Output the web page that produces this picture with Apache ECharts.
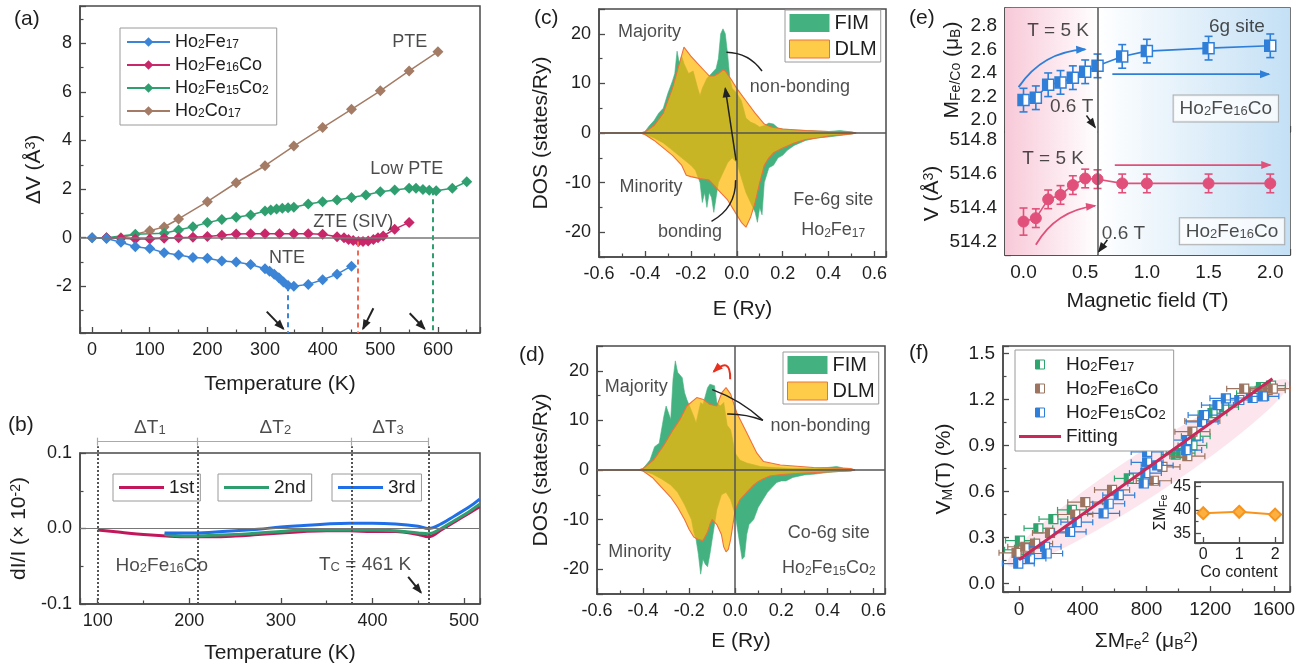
<!DOCTYPE html>
<html>
<head>
<meta charset="utf-8">
<script src="https://cdn.jsdelivr.net/npm/echarts@6/dist/echarts.min.js"></script>
<style>
  html, body { margin: 0; padding: 0; background: #fff; }
  #chart { width: 1303px; height: 667px; }
</style>
</head>
<body>
<div id="chart"></div>
<script>
// ---------- (a) volume change vs temperature ----------
const tFe17 = [0, 25, 50, 75, 100, 125, 150, 175, 200, 225, 250, 275, 300, 308, 316, 324, 332, 340, 350, 375, 400, 425, 450]
const dvFe17 = [0, -0.03, -0.19, -0.37, -0.44, -0.62, -0.71, -0.81, -0.85, -0.96, -1.0, -1.1, -1.28, -1.38, -1.5, -1.65, -1.82, -1.97, -2.0, -1.92, -1.73, -1.5, -1.17]
const tFe16Co = [25, 50, 75, 100, 125, 150, 175, 200, 225, 250, 275, 300, 325, 350, 375, 400, 425, 437, 445, 453, 462, 470, 479, 488, 496, 505, 525, 550]
const dvFe16Co = [0, -0.02, -0.05, -0.05, -0.02, 0, 0.02, 0.05, 0.1, 0.15, 0.16, 0.16, 0.16, 0.16, 0.16, 0.14, 0.04, 0, -0.07, -0.12, -0.16, -0.16, -0.14, -0.07, 0, 0.07, 0.35, 0.63]
const tFe15Co2 = [25, 75, 125, 150, 175, 200, 225, 250, 275, 300, 310, 320, 330, 340, 350, 375, 400, 425, 450, 475, 500, 525, 550, 562, 574, 585, 597, 625, 650]
const dvFe15Co2 = [0, 0.14, 0.18, 0.32, 0.45, 0.62, 0.75, 0.84, 0.93, 1.1, 1.14, 1.18, 1.21, 1.23, 1.25, 1.39, 1.48, 1.55, 1.65, 1.76, 1.89, 1.96, 2.03, 2.03, 1.98, 1.95, 1.93, 2.03, 2.3]
const tCo17 = [0, 50, 100, 125, 150, 200, 250, 300, 350, 400, 450, 500, 550, 600]
const dvCo17 = [0, 0, 0.29, 0.44, 0.77, 1.48, 2.26, 2.96, 3.77, 4.53, 5.28, 6.04, 6.86, 7.65]
const transT = [340, 460.7, 590.8]          // dashed markers of NTE / ZTE / PTE limits
const transV = [-2.0, -0.16, 1.95]

// ---------- (b) dI/I of three runs ----------
const tRun1 = [100, 125, 150, 175, 200, 225, 250, 275, 300, 325, 350, 375, 400, 425, 450, 461, 475, 490, 505, 517]
const run1 = [-0.002, -0.005, -0.008, -0.010, -0.011, -0.011, -0.010, -0.008, -0.006, -0.004, -0.003, -0.003, -0.004, -0.004, -0.008, -0.011, -0.002, 0.009, 0.020, 0.029]
const tRun2 = [173, 200, 225, 250, 275, 300, 325, 350, 375, 400, 425, 450, 461, 475, 490, 505, 517]
const run2 = [-0.008, -0.010, -0.009, -0.008, -0.006, -0.004, -0.002, -0.002, -0.002, -0.002, -0.003, -0.006, -0.007, 0.0, 0.011, 0.022, 0.032]
const tRun3 = [173, 200, 225, 250, 275, 300, 325, 350, 375, 400, 425, 450, 461, 475, 490, 505, 517]
const run3 = [-0.006, -0.006, -0.005, -0.003, -0.001, 0.002, 0.004, 0.006, 0.007, 0.007, 0.006, 0.003, 0.0, 0.006, 0.017, 0.028, 0.039]
const rangeBounds = [100, 209, 377, 461]

// ---------- (c) DOS Fe-6g, Ho2Fe17 ----------
const eFimUpC = [-0.6, -0.42, -0.40, -0.38, -0.36, -0.34, -0.32, -0.30, -0.28, -0.27, -0.26, -0.25, -0.24, -0.23, -0.21, -0.19, -0.17, -0.16, -0.15, -0.13, -0.11, -0.09, -0.08, -0.07, -0.06, -0.05, -0.04, -0.03, -0.02, 0.0, 0.02, 0.04, 0.06, 0.08, 0.10, 0.12, 0.14, 0.16, 0.18, 0.20, 0.25, 0.30, 0.35, 0.40, 0.45, 0.50, 0.52]
const fimUpC = [0, 0, 0.3, 1.5, 2.5, 4, 5, 8, 10.5, 12, 16.5, 14, 15.5, 14, 12, 12.5, 9, 7.5, 9, 11, 12, 13, 15, 20, 21, 20, 16, 11, 9, 8, 6.5, 3, 2.2, 1.8, 1.2, 1.5, 2, 1.8, 1.0, 0.8, 0.6, 0.5, 0.4, 0.3, 0.5, 0.2, 0]
const eDlmUpC = [-0.6, -0.42, -0.40, -0.36, -0.32, -0.28, -0.25, -0.23, -0.20, -0.17, -0.14, -0.12, -0.10, -0.08, -0.06, -0.05, -0.02, 0.0, 0.04, 0.08, 0.12, 0.15, 0.20, 0.30, 0.40, 0.50, 0.52]
const dlmUpC = [0, 0, 0.2, 1.5, 4, 9, 14, 17.3, 15.5, 14, 12.5, 11.5, 11.5, 12, 12.7, 12.5, 10.5, 9, 6.5, 4, 1.8, 1.2, 0.8, 0.5, 0.3, 0.2, 0]
const eFimDnC = [-0.6, -0.42, -0.40, -0.36, -0.32, -0.28, -0.24, -0.20, -0.18, -0.16, -0.15, -0.14, -0.13, -0.12, -0.11, -0.10, -0.09, -0.08, -0.06, -0.04, -0.02, 0.0, 0.02, 0.04, 0.06, 0.08, 0.09, 0.10, 0.11, 0.12, 0.14, 0.16, 0.18, 0.20, 0.22, 0.25, 0.30, 0.35, 0.40, 0.45, 0.50, 0.52]
const fimDnC = [0, 0, -0.3, -1, -2, -3.5, -5, -6.5, -7.5, -10, -14, -12, -15, -12, -13, -16, -13, -10, -8, -6, -5, -6, -9, -12, -14, -16, -18, -15, -16.5, -10, -7, -6.5, -5, -4.5, -3.5, -2.5, -1.5, -1, -0.8, -0.5, -0.2, 0]
const eDlmDnC = [-0.6, -0.42, -0.40, -0.36, -0.32, -0.28, -0.24, -0.22, -0.20, -0.16, -0.12, -0.10, -0.07, -0.04, -0.02, 0.0, 0.02, 0.04, 0.06, 0.08, 0.10, 0.12, 0.14, 0.16, 0.20, 0.25, 0.30, 0.35, 0.40, 0.45, 0.50, 0.52]
const dlmDnC = [0, 0, -0.3, -1.5, -3, -4.5, -6.5, -8.5, -8.8, -9.2, -9.5, -10.5, -12, -13.5, -15, -16.5, -18, -19, -17, -14, -10, -6.5, -5, -4, -3, -2, -1.3, -1, -0.6, -0.4, -0.2, 0]

// ---------- (d) DOS Co-6g, Ho2Fe15Co2 ----------
const eFimUpD = [-0.6, -0.42, -0.40, -0.37, -0.35, -0.33, -0.31, -0.30, -0.28, -0.27, -0.26, -0.25, -0.23, -0.22, -0.21, -0.18, -0.17, -0.15, -0.14, -0.12, -0.11, -0.09, -0.08, -0.065, -0.05, -0.035, -0.02, 0.0, 0.02, 0.05, 0.11, 0.17, 0.25, 0.34, 0.40, 0.44, 0.47, 0.50, 0.52]
const fimUpD = [0, 0, 0.3, 2, 4.7, 5.4, 10.8, 12.9, 10.2, 18.3, 22, 19.7, 18.6, 15.6, 14.2, 10.8, 9.5, 13.6, 13.2, 16.6, 17.3, 17, 13.6, 12.9, 13.6, 9, 8.1, 3.4, 2, 1.4, 0.7, 0.5, 0.3, 0.3, 0.5, 0.7, 0.4, 0.3, 0]
const eDlmUpD = [-0.6, -0.42, -0.40, -0.355, -0.31, -0.27, -0.24, -0.21, -0.167, -0.138, -0.109, -0.08, -0.058, -0.04, -0.02, 0.007, 0.05, 0.094, 0.123, 0.196, 0.34, 0.50, 0.52]
const dlmUpD = [0, 0, 0.3, 2, 5, 8.1, 10.2, 12.9, 14.6, 14.2, 13.2, 12.9, 15.6, 16.6, 15.3, 11.5, 7.5, 3.4, 1.7, 1.0, 0.5, 0.3, 0]
const eFimDnD = [-0.6, -0.42, -0.40, -0.36, -0.32, -0.28, -0.25, -0.22, -0.20, -0.19, -0.18, -0.17, -0.16, -0.15, -0.14, -0.13, -0.12, -0.11, -0.10, -0.09, -0.08, -0.06, -0.04, -0.02, 0.0, 0.01, 0.02, 0.03, 0.04, 0.05, 0.06, 0.08, 0.10, 0.12, 0.14, 0.16, 0.18, 0.20, 0.22, 0.25, 0.30, 0.35, 0.40, 0.45, 0.50, 0.52]
const fimDnD = [0, 0, -0.2, -0.8, -1.8, -3, -4.5, -7, -9, -10, -12.5, -14, -17, -21, -18, -19, -19.5, -17, -14, -11, -8, -5, -4.5, -6, -9, -12, -15, -18, -17.5, -13, -11, -10, -7.5, -6, -4.5, -3.5, -2.5, -2.2, -2.2, -1.5, -1, -0.8, -0.5, -0.3, -0.2, 0]
const eDlmDnD = [-0.6, -0.42, -0.40, -0.36, -0.32, -0.28, -0.25, -0.22, -0.20, -0.18, -0.16, -0.14, -0.12, -0.11, -0.10, -0.08, -0.06, -0.05, -0.04, -0.03, -0.02, -0.01, 0.0, 0.02, 0.04, 0.06, 0.08, 0.10, 0.12, 0.15, 0.20, 0.30, 0.40, 0.50, 0.52]
const dlmDnD = [0, 0, -0.2, -1.5, -3.5, -5.5, -7.5, -10, -12, -13.5, -14, -14.2, -12.5, -11, -10, -11, -13, -15.5, -16.5, -16, -14, -11, -8, -6, -5, -4, -3, -2.3, -1.8, -1.2, -0.9, -0.6, -0.4, -0.2, 0]

// ---------- (e) moment and volume vs field ----------
const field = [0, 0.1, 0.2, 0.3, 0.4, 0.5, 0.6, 0.8, 1.0, 1.5, 2.0]
const moment = [2.17, 2.19, 2.30, 2.32, 2.36, 2.41, 2.46, 2.54, 2.585, 2.61, 2.63]
const momentErr = [0.1, 0.1, 0.1, 0.1, 0.1, 0.1, 0.1, 0.1, 0.1, 0.1, 0.1]
const volume = [514.317, 514.337, 514.448, 514.474, 514.532, 514.571, 514.567, 514.542, 514.542, 514.542, 514.542]
const volumeErr = [0.08, 0.055, 0.055, 0.055, 0.055, 0.055, 0.055, 0.055, 0.055, 0.055, 0.055]

// ---------- (f) magnetovolume vs sum M^2 ----------
const mFe17 = [0, 6, 122, 216, 332, 689, 983, 1014, 1088, 1109, 1214, 1287, 1455, 1518, 1581]
const vFe17 = [0.22, 0.28, 0.36, 0.42, 0.48, 0.685, 0.84, 0.85, 0.9, 0.96, 1.11, 1.15, 1.24, 1.28, 1.29]
const mFe16Co = [-15, 40, 101, 195, 353, 416, 584, 846, 900, 1056, 1088, 1150, 1413, 1560, 1592]
const vFe16Co = [0.2, 0.24, 0.26, 0.33, 0.45, 0.53, 0.61, 0.67, 0.76, 0.83, 0.99, 1.06, 1.27, 1.26, 1.27]
const mFe15Co2 = [-4, 69, 164, 174, 321, 363, 531, 563, 626, 783, 793, 804, 804, 867, 1046, 1054, 1149, 1161, 1245, 1298, 1382, 1466, 1530]
const vFe15Co2 = [0.13, 0.163, 0.24, 0.196, 0.337, 0.40, 0.457, 0.52, 0.576, 0.652, 0.72, 0.79, 0.858, 0.77, 0.87, 0.935, 1.054, 1.098, 1.163, 1.207, 1.196, 1.209, 1.22]
const errFe17 = 90, errFe16Co = 110, errFe15Co2 = 100
const fitM = [0, 1590]
const fitV = [0.155, 1.335]
const coContent = [0, 1, 2]
const sumM = [39.3, 39.6, 39.0]

// ---------- styling ----------
const FONT = '"Liberation Sans", Arial, Helvetica, sans-serif'
const INK = '#1e1e1e'
const AX = '#4a4a4a'
const C = {
  fe17: '#3b84d6', fe16co: '#c8286a', fe15co2: '#2f9f70', co17: '#a47c66',
  r1: '#c2185b', r2: '#2e9e6e', r3: '#1f6fe8',
  fim: '#44b280', dlm: '#ffb700', dlmLegend: '#ffcc4a', dlmLine: '#f0703a',
  eBlue: '#2f7fd8', eRed: '#e0507a',
  fGreen: '#2ea46e', fBrown: '#9c7460', fBlue: '#2f7fd8', fit: '#c8285a', inset: '#f7941d'
}

const zip = (xs, ys) => xs.map((x, i) => [x, ys[i]])
const chem = s => s.replace(/(\d+)/g, '{s|$1}')
const RICH = fs => ({
  s: { fontSize: fs, fontFamily: FONT, verticalAlign: 'bottom', color: INK },
  p: { fontSize: fs, fontFamily: FONT, verticalAlign: 'top', color: INK }
})

function axis(gi, min, max, step, o = {}) {
  return Object.assign({
    type: 'value', gridIndex: gi, min, max, minInterval: step, maxInterval: step,
    axisLine: { show: true, onZero: false, lineStyle: { color: AX, width: 1.5 } },
    axisTick: { show: true, inside: true, length: 6, lineStyle: { color: AX, width: 1.3 } },
    minorTick: { show: true, splitNumber: 2, length: 3.5, lineStyle: { color: AX, width: 1.2 } },
    splitLine: { show: false },
    axisLabel: {
      show: o.labels !== false, color: INK, fontSize: o.fs || 18, fontFamily: FONT, margin: o.margin || 8,
      showMinLabel: !!o.minLabel, showMaxLabel: !!o.maxLabel,
      formatter: v => (o.dec != null ? v.toFixed(o.dec) : String(Math.round(v)))
    },
    name: o.name || '', nameLocation: 'middle', nameGap: o.gap || 30,
    nameTextStyle: { fontSize: o.nfs || 21, color: INK, fontFamily: FONT, rich: RICH(o.sfs || 14) }
  }, o.extra || {})
}
function hidden(gi, min, max) {
  return { type: 'value', gridIndex: gi, min, max, show: false, splitLine: { show: false } }
}
const box = (left, top, width, height) => ({ left, top, width, height, show: true, borderColor: AX, borderWidth: 1.5 })

// annotation texts [x, y, text, labelOverride]; rules are full-width/height markLines or vertical segments
function notes(gi, items, rules, fs) {
  return {
    type: 'scatter', xAxisIndex: gi, yAxisIndex: gi, symbolSize: 0, silent: true, z: 8,
    data: items.map(n => ({ value: [n[0], n[1]], text: n[2], label: n[3] || {} })),
    label: { show: true, position: 'inside', color: INK, fontSize: fs || 18, fontFamily: FONT, formatter: p => p.data.text, rich: RICH(Math.round((fs || 18) * 0.68)) },
    markLine: {
      silent: true, animation: false, symbol: 'none', label: { show: false },
      lineStyle: { color: '#222', width: 1.5, type: 'solid' },
      data: (rules || []).map(l => l.length === 1 ? l[0] : [{ coord: l[0], lineStyle: l[2] || {} }, { coord: l[1] }])
    }
  }
}

// leader lines and arrows [[x1,y1],[x2,y2],{color,width,curveness},hasHead]
function arrows(gi, list) {
  return {
    type: 'custom', xAxisIndex: gi, yAxisIndex: gi, silent: true, z: 9, clip: false,
    data: list.map(l => [l[0][0], l[0][1], l[1][0], l[1][1]]),
    encode: { x: [0, 2], y: [1, 3] },
    renderItem: (params, api) => {
      const l = list[params.dataIndex], st = l[2] || {}
      const a = api.coord([api.value(0), api.value(1)]), b = api.coord([api.value(2), api.value(3)])
      const c = st.curveness || 0
      const cp = [(a[0] + b[0]) / 2 - (a[1] - b[1]) * c, (a[1] + b[1]) / 2 - (b[0] - a[0]) * c]
      const color = st.color || '#222', w = st.width || 1.5
      const kids = [{ type: 'bezierCurve', shape: { x1: a[0], y1: a[1], x2: b[0], y2: b[1], cpx1: cp[0], cpy1: cp[1] }, style: { stroke: color, lineWidth: w, fill: null } }]
      if (l[3]) {
        const dx = b[0] - cp[0], dy = b[1] - cp[1], len = Math.hypot(dx, dy) || 1, ux = dx / len, uy = dy / len
        const L = 9, W = 4
        kids.push({ type: 'polygon', shape: { points: [[b[0] + ux * 1.5, b[1] + uy * 1.5], [b[0] - ux * L - uy * W, b[1] - uy * L + ux * W], [b[0] - ux * L + uy * W, b[1] - uy * L - ux * W]] }, style: { fill: color } })
      }
      return { type: 'group', children: kids }
    }
  }
}

function vErr(color, round) {
  return (params, api) => {
    const x = api.value(0), y = api.value(1), e = api.value(2)
    const p = api.coord([x, y]), lo = api.coord([x, y - e]), hi = api.coord([x, y + e])
    const st = { stroke: color, lineWidth: 1.6 }, cap = 4, h = 5.5
    const kids = [
      { type: 'line', shape: { x1: p[0], y1: lo[1], x2: p[0], y2: hi[1] }, style: st },
      { type: 'line', shape: { x1: p[0] - cap, y1: lo[1], x2: p[0] + cap, y2: lo[1] }, style: st },
      { type: 'line', shape: { x1: p[0] - cap, y1: hi[1], x2: p[0] + cap, y2: hi[1] }, style: st }
    ]
    if (round) {
      kids.push({ type: 'circle', shape: { cx: p[0], cy: p[1], r: h }, style: { fill: color, stroke: color } })
    } else {
      kids.push({ type: 'rect', shape: { x: p[0] - h, y: p[1] - h, width: 2 * h, height: 2 * h }, style: { fill: '#fff', stroke: color, lineWidth: 1.5 } })
      kids.push({ type: 'rect', shape: { x: p[0] - h, y: p[1] - h, width: h, height: 2 * h }, style: { fill: color } })
    }
    return { type: 'group', children: kids }
  }
}
function hErr(color) {
  return (params, api) => {
    const x = api.value(0), y = api.value(1), e = api.value(2)
    const p = api.coord([x, y]), l = api.coord([x - e, y]), r = api.coord([x + e, y])
    const st = { stroke: color, lineWidth: 1.2 }, cap = 3, h = 4.5
    return {
      type: 'group', children: [
        { type: 'line', shape: { x1: l[0], y1: p[1], x2: r[0], y2: p[1] }, style: st },
        { type: 'line', shape: { x1: l[0], y1: p[1] - cap, x2: l[0], y2: p[1] + cap }, style: st },
        { type: 'line', shape: { x1: r[0], y1: p[1] - cap, x2: r[0], y2: p[1] + cap }, style: st },
        { type: 'rect', shape: { x: p[0] - h, y: p[1] - h, width: 2 * h, height: 2 * h }, style: { fill: '#fff', stroke: color, lineWidth: 1.2 } },
        { type: 'rect', shape: { x: p[0] - h, y: p[1] - h, width: h, height: 2 * h }, style: { fill: color } }
      ]
    }
  }
}
const halfFill = c => ({ type: 'linear', x: 0, y: 0, x2: 1, y2: 0, colorStops: [{ offset: 0, color: c }, { offset: 0.5, color: c }, { offset: 0.5, color: '#fff' }, { offset: 1, color: '#fff' }] })
const grad = (a, b) => ({ type: 'linear', x: 0, y: 0, x2: 1, y2: 0, colorStops: [{ offset: 0, color: a }, { offset: 1, color: b }] })
const SQUARE = 'path://M0,0L10,0L10,10L0,10Z'
const BAR = w => `path://M0,0L${w},0L${w},3.2L0,3.2Z`

// axis ranges
const A = { x: [-21, 673], y: [-3.92, 9.53] }
const B = { x: [80.7, 517.4], y: [-0.1, 0.1] }
const DOSX = [-0.6, 0.65], DOSY = [-25, 25]
const E = { x: [-0.15, 2.16], top: [1.9, 2.95], bot: [514.12, 514.845] }
const F = { x: [-100, 1700], y: [-0.055, 1.548] }
const INS = { x: [-0.23, 2.22], y: [32.9, 46] }

const lineS = (name, gi, xs, ys, color, extra) => Object.assign({
  name, type: 'line', xAxisIndex: gi, yAxisIndex: gi, data: zip(xs, ys),
  symbol: 'diamond', symbolSize: 11, itemStyle: { color }, lineStyle: { color, width: 1.5 }, animation: false
}, extra || {})
const dosS = (name, gi, xs, ys, isDlm) => ({
  name, type: 'line', xAxisIndex: gi, yAxisIndex: gi, data: zip(xs, ys), symbol: 'none', animation: false,
  z: isDlm ? 4 : 3, itemStyle: { color: isDlm ? C.dlmLegend : C.fim },
  lineStyle: isDlm ? { color: C.dlmLine, width: 1.1 } : { color: C.fim, width: 0.6 },
  areaStyle: isDlm ? { color: C.dlm, opacity: 0.7 } : { color: C.fim, opacity: 1 }
})
const runS = (name, xs, ys, color) => ({
  name, type: 'line', xAxisIndex: 1, yAxisIndex: 1, data: zip(xs, ys), symbol: 'none', smooth: 0.4,
  lineStyle: { color, width: 3 }, itemStyle: { color }, animation: false
})
const rows = (xs, ys, es) => xs.map((x, i) => [x, ys[i], Array.isArray(es) ? es[i] : es])

const legendText = fs => ({ color: INK, fontSize: fs, fontFamily: FONT, rich: RICH(Math.round(fs * 0.68)) })
const legendBase = { orient: 'vertical', borderColor: '#9a9a9a', borderWidth: 1, backgroundColor: '#fff', selectedMode: false }

const chart = echarts.init(document.getElementById('chart'))
const dashV = (x, y, color) => [[x, y], [x, A.y[0]], { color, type: [5, 4], width: 2 }]
const eBg = [
  [{ xAxis: E.x[0], itemStyle: { color: grad('#f8c9d8', '#ffffff') } }, { xAxis: 0.6 }],
  [{ xAxis: 0.6, itemStyle: { color: grad('#ffffff', '#c4e0f5') } }, { xAxis: E.x[1] }]
]
const boxed = { borderColor: '#9a9a9a', borderWidth: 1, backgroundColor: '#fff', padding: [4, 6, 3, 6] }

chart.setOption({
  animation: false,
  title: [
    ['(a)', 14, 9], ['(b)', 8, 415], ['(c)', 534, 8], ['(d)', 519, 345], ['(e)', 909, 8], ['(f)', 909, 343]
  ].map(t => ({ text: t[0], left: t[1], top: t[2], padding: 0, textStyle: { fontSize: 21, fontWeight: 'normal', color: INK, fontFamily: FONT } })),
  grid: [
    box(80, 6, 400, 327),        // a
    box(80, 453, 400, 151),      // b
    { left: 80, top: 415, width: 400, height: 189, show: false }, // b overlay (range brackets)
    box(599, 9, 287, 248),       // c
    box(597, 346, 288, 248),     // d
    box(1005, 8, 285, 124),      // e top
    box(1005, 132, 285, 123),    // e bottom
    box(1003, 346, 287, 246),    // f
    box(1195, 482, 88, 61)       // f inset
  ],
  xAxis: [
    axis(0, A.x[0], A.x[1], 100, { name: 'Temperature (K)', gap: 41 }),
    axis(1, B.x[0], B.x[1], 100, { name: 'Temperature (K)', gap: 39 }),
    hidden(2, B.x[0], B.x[1]),
    axis(3, DOSX[0], DOSX[1], 0.2, { name: 'E (Ry)', gap: 42, dec: 1, minLabel: true }),
    axis(4, DOSX[0], DOSX[1], 0.2, { name: 'E (Ry)', gap: 37, dec: 1, minLabel: true }),
    axis(5, E.x[0], E.x[1], 0.5, { labels: false }),
    axis(6, E.x[0], E.x[1], 0.5, { name: 'Magnetic field (T)', gap: 36, dec: 1, fs: 19 }),
    axis(7, F.x[0], F.x[1], 400, { name: 'ΣM{s|Fe}{p|2} (μ{s|B}{p|2})', gap: 39, fs: 19 }),
    axis(8, INS.x[0], INS.x[1], 1, { name: 'Co content', gap: 22, fs: 16, nfs: 16, margin: 4, extra: { minorTick: { show: false } } })
  ],
  yAxis: [
    axis(0, A.y[0], A.y[1], 2, { name: 'ΔV (Å{p|3})', gap: 35 }),
    axis(1, B.y[0], B.y[1], 0.1, { name: 'dI/I (× 10{p|-2})', gap: 50, dec: 1, minLabel: true, maxLabel: true }),
    hidden(2, 0, 1),
    axis(3, DOSY[0], DOSY[1], 10, { name: 'DOS (states/Ry)', gap: 47 }),
    axis(4, DOSY[0], DOSY[1], 10, { name: 'DOS (states/Ry)', gap: 45 }),
    axis(5, E.top[0], E.top[1], 0.2, { name: 'M{s|Fe/Co} (μ{s|B})', gap: 42, dec: 1, fs: 19 }),
    axis(6, E.bot[0], E.bot[1], 0.2, { name: 'V (Å{p|3})', gap: 62, dec: 1, fs: 19 }),
    axis(7, F.y[0], F.y[1], 0.3, { name: 'V{s|M}(T) (%)', gap: 48, dec: 1, fs: 19 }),
    axis(8, INS.y[0], INS.y[1], 5, { name: 'ΣM{s|Fe}', gap: 26, fs: 16, nfs: 16, sfs: 11, margin: 4 })
  ],
  legend: [
    Object.assign({}, legendBase, {
      left: 120, top: 28, padding: [5, 8, 5, 6], itemGap: 5, itemWidth: 43, itemHeight: 12,
      data: ['Ho2Fe17', 'Ho2Fe16Co', 'Ho2Fe15Co2', 'Ho2Co17'], formatter: n => chem(n), textStyle: legendText(18)
    }),
    ...[['1st', 113], ['2nd', 218], ['3rd', 332]].map(l => Object.assign({}, legendBase, {
      left: l[1], top: 474, padding: [4, 6], itemWidth: 45, itemHeight: 12,
      data: [{ name: l[0], icon: BAR(45) }], textStyle: legendText(19)
    })),
    ...[[785, 10], [783, 352]].map(p => Object.assign({}, legendBase, {
      left: p[0], top: p[1], padding: [3, 4], itemGap: 6, itemWidth: 40, itemHeight: 18,
      data: [
        { name: 'FIM', icon: 'rect', itemStyle: { color: C.fim } },
        { name: 'DLM', icon: 'rect', itemStyle: { color: C.dlmLegend, borderColor: C.dlmLine, borderWidth: 1 } }
      ], textStyle: legendText(20)
    })),
    Object.assign({}, legendBase, {
      left: 1015, top: 350, padding: [5, 8, 5, 4], itemGap: 5, itemWidth: 42, itemHeight: 9,
      data: [
        { name: 'f:Ho2Fe17', icon: SQUARE, itemStyle: { color: halfFill(C.fGreen), borderColor: C.fGreen, borderWidth: 1 } },
        { name: 'f:Ho2Fe16Co', icon: SQUARE, itemStyle: { color: halfFill(C.fBrown), borderColor: C.fBrown, borderWidth: 1 } },
        { name: 'f:Ho2Fe15Co2', icon: SQUARE, itemStyle: { color: halfFill(C.fBlue), borderColor: C.fBlue, borderWidth: 1 } },
        { name: 'Fitting', icon: BAR(42), itemStyle: { color: C.fit } }
      ],
      formatter: n => chem(n.replace(/^f:/, '')), textStyle: legendText(19)
    })
  ],
  series: [
    // (a)
    lineS('Ho2Co17', 0, tCo17, dvCo17, C.co17),
    lineS('Ho2Fe15Co2', 0, tFe15Co2, dvFe15Co2, C.fe15co2),
    lineS('Ho2Fe16Co', 0, tFe16Co, dvFe16Co, C.fe16co),
    lineS('Ho2Fe17', 0, tFe17, dvFe17, C.fe17),
    notes(0, [
      [551, 8.05, 'PTE'], [546, 2.81, 'Low PTE'], [453, 0.66, 'ZTE (SIV)'], [338, -0.85, 'NTE']
    ], [
      [{ yAxis: 0, lineStyle: { color: '#777', width: 1.5 } }],
      dashV(transT[0], transV[0], C.fe17),
      dashV(transT[1], transV[1], '#f06a55'),
      dashV(transT[2], transV[2], C.fe15co2)
    ]),
    arrows(0, [
      [[303, -3.04], [332, -3.75], { width: 2 }, true],
      [[488, -2.9], [470, -3.75], { width: 2 }, true],
      [[551, -3.11], [577, -3.75], { width: 2 }, true]
    ]),
    // (b)
    runS('1st', tRun1, run1, C.r1),
    runS('2nd', tRun2, run2, C.r2),
    runS('3rd', tRun3, run3, C.r3),
    notes(1, [
      [170, -0.049, 'Ho{s|2}Fe{s|16}Co'], [392, -0.048, 'T{s|C} = 461 K']
    ], [
      [{ yAxis: 0, lineStyle: { color: '#777', width: 1.2 } }]
    ], 19),
    arrows(1, [[[439, -0.064], [453, -0.085], { width: 2 }, true]]),
    notes(2, [
      [157, 0.935, 'ΔT{s|1}'], [294, 0.935, 'ΔT{s|2}'], [417, 0.935, 'ΔT{s|3}']
    ], [
      ...rangeBounds.map(t => [[t, 0], [t, 0.835], { color: '#555', type: 'dotted', width: 2 }]),
      [[rangeBounds[0], 0.859], [rangeBounds[3], 0.859], { color: '#aaa', width: 1.2 }],
      ...rangeBounds.map(t => [[t, 0.838], [t, 0.88], { color: '#aaa', width: 1.2 }])
    ], 19),
    // (c)
    dosS('FIM', 3, eFimUpC, fimUpC, false),
    dosS('FIM', 3, eFimDnC, fimDnC, false),
    dosS('DLM', 3, eDlmUpC, dlmUpC, true),
    dosS('DLM', 3, eDlmDnC, dlmDnC, true),
    notes(3, [
      [-0.38, 20.4, 'Majority'], [-0.373, -10.9, 'Minority'], [0.275, 9.3, 'non-bonding'], [-0.204, -20, 'bonding'],
      [0.42, -13.5, 'Fe-6g site'], [0.42, -19.6, 'Ho{s|2}Fe{s|17}']
    ], [
      [{ xAxis: 0, lineStyle: { color: '#555', width: 1.5 } }],
      [{ yAxis: 0, lineStyle: { color: '#555', width: 1.5 } }]
    ]),
    arrows(3, [
      [[-0.045, 16.3], [0.11, 12.5], { curveness: 0.25 }],
      [[-0.003, -5.5], [-0.05, 9], {}, true],
      [[-0.11, -17.8], [-0.005, -9.5], { curveness: -0.3 }]
    ]),
    // (d)
    dosS('FIM', 4, eFimUpD, fimUpD, false),
    dosS('FIM', 4, eFimDnD, fimDnD, false),
    dosS('DLM', 4, eDlmUpD, dlmUpD, true),
    dosS('DLM', 4, eDlmDnD, dlmDnD, true),
    notes(4, [
      [-0.43, 16.8, 'Majority'], [-0.414, -16.5, 'Minority'], [0.37, 8.9, 'non-bonding'],
      [0.406, -12.8, 'Co-6g site'], [0.406, -19.8, 'Ho{s|2}Fe{s|15}Co{s|2}']
    ], [
      [{ xAxis: 0, lineStyle: { color: '#555', width: 1.5 } }],
      [{ yAxis: 0, lineStyle: { color: '#555', width: 1.5 } }]
    ]),
    arrows(4, [
      [[-0.1, 16.2], [0.12, 10], { curveness: 0.1 }],
      [[-0.035, 11.3], [0.12, 10], { curveness: 0.1 }],
      [[-0.022, 18.3], [-0.094, 19.8], { color: '#e8301e', width: 2, curveness: -1.2 }, true]
    ]),
    // (e) background + top
    { type: 'line', xAxisIndex: 5, yAxisIndex: 5, data: [], z: -1, silent: true, markArea: { silent: true, data: eBg } },
    { type: 'line', xAxisIndex: 6, yAxisIndex: 6, data: [], z: -1, silent: true, markArea: { silent: true, data: eBg } },
    { type: 'line', xAxisIndex: 5, yAxisIndex: 5, data: zip(field, moment), symbol: 'none', lineStyle: { color: C.eBlue, width: 1.6 } },
    { type: 'custom', xAxisIndex: 5, yAxisIndex: 5, data: rows(field, moment, momentErr), encode: { x: 0, y: 1 }, renderItem: vErr(C.eBlue, false), z: 4 },
    { type: 'line', xAxisIndex: 6, yAxisIndex: 6, data: zip(field, volume), symbol: 'none', lineStyle: { color: C.eRed, width: 1.6 } },
    { type: 'custom', xAxisIndex: 6, yAxisIndex: 6, data: rows(field, volume, volumeErr), encode: { x: 0, y: 1 }, renderItem: vErr(C.eRed, true), z: 4 },
    notes(5, [
      [0.28, 2.76, 'T = 5 K'], [1.73, 2.79, '6g site'], [0.39, 2.11, '0.6 T'],
      [1.64, 2.1, 'Ho{s|2}Fe{s|16}Co', boxed]
    ], [
      [{ xAxis: 0.6, lineStyle: { color: '#555', width: 1.5 } }]
    ], 19),
    arrows(5, [
      [[-0.04, 2.28], [0.5, 2.6], { color: C.eBlue, width: 1.8, curveness: 0.25 }, true],
      [[0.72, 2.39], [1.99, 2.39], { color: C.eBlue, width: 1.8 }, true],
      [[0.51, 2.04], [0.58, 1.94], {}, true]
    ]),
    notes(6, [
      [0.24, 514.69, 'T = 5 K'], [0.81, 514.245, '0.6 T'],
      [1.69, 514.26, 'Ho{s|2}Fe{s|16}Co', boxed]
    ], [
      [{ xAxis: 0.6, lineStyle: { color: '#555', width: 1.5 } }]
    ], 19),
    arrows(6, [
      [[0.1, 514.18], [0.58, 514.41], { color: C.eRed, width: 1.8, curveness: 0.25 }, true],
      [[0.74, 514.65], [2.0, 514.65], { color: C.eRed, width: 1.8 }, true],
      [[0.68, 514.21], [0.61, 514.14], {}, true]
    ]),
    // (f)
    {
      type: 'custom', xAxisIndex: 7, yAxisIndex: 7, z: 1, silent: true,
      data: [[-70, 0.12, 1690, 1.32]], encode: { x: [0, 2], y: [1, 3] },
      renderItem: (params, api) => {
        const a = api.coord([api.value(0), api.value(1)]), b = api.coord([api.value(2), api.value(3)])
        const cx = (a[0] + b[0]) / 2, cy = (a[1] + b[1]) / 2
        const ang = Math.atan2(b[1] - a[1], b[0] - a[0])
        const R = Math.hypot(b[0] - a[0], b[1] - a[1]) / 2, r = 22
        const pts = []
        for (let k = 0; k < 90; k++) {
          const t = k / 90 * 2 * Math.PI, ex = R * Math.cos(t), ey = r * Math.sin(t)
          pts.push([cx + ex * Math.cos(ang) - ey * Math.sin(ang), cy + ex * Math.sin(ang) + ey * Math.cos(ang)])
        }
        return { type: 'polygon', shape: { points: pts }, style: { fill: 'rgba(246,170,196,0.3)' } }
      }
    },
    { name: 'f:Ho2Fe17', type: 'custom', xAxisIndex: 7, yAxisIndex: 7, data: rows(mFe17, vFe17, errFe17), encode: { x: 0, y: 1 }, renderItem: hErr(C.fGreen), itemStyle: { color: C.fGreen }, z: 3 },
    { name: 'f:Ho2Fe16Co', type: 'custom', xAxisIndex: 7, yAxisIndex: 7, data: rows(mFe16Co, vFe16Co, errFe16Co), encode: { x: 0, y: 1 }, renderItem: hErr(C.fBrown), itemStyle: { color: C.fBrown }, z: 3 },
    { name: 'f:Ho2Fe15Co2', type: 'custom', xAxisIndex: 7, yAxisIndex: 7, data: rows(mFe15Co2, vFe15Co2, errFe15Co2), encode: { x: 0, y: 1 }, renderItem: hErr(C.fBlue), itemStyle: { color: C.fBlue }, z: 3 },
    { name: 'Fitting', type: 'line', xAxisIndex: 7, yAxisIndex: 7, data: zip(fitM, fitV), symbol: 'none', lineStyle: { color: C.fit, width: 3 }, itemStyle: { color: C.fit }, z: 5 },
    {
      type: 'line', xAxisIndex: 8, yAxisIndex: 8, data: zip(coContent, sumM), symbol: 'diamond', symbolSize: 12, z: 7,
      lineStyle: { color: C.inset, width: 2 }, itemStyle: { color: '#fbb040', borderColor: C.inset, borderWidth: 2 }
    }
  ]
})
</script>
</body>
</html>
